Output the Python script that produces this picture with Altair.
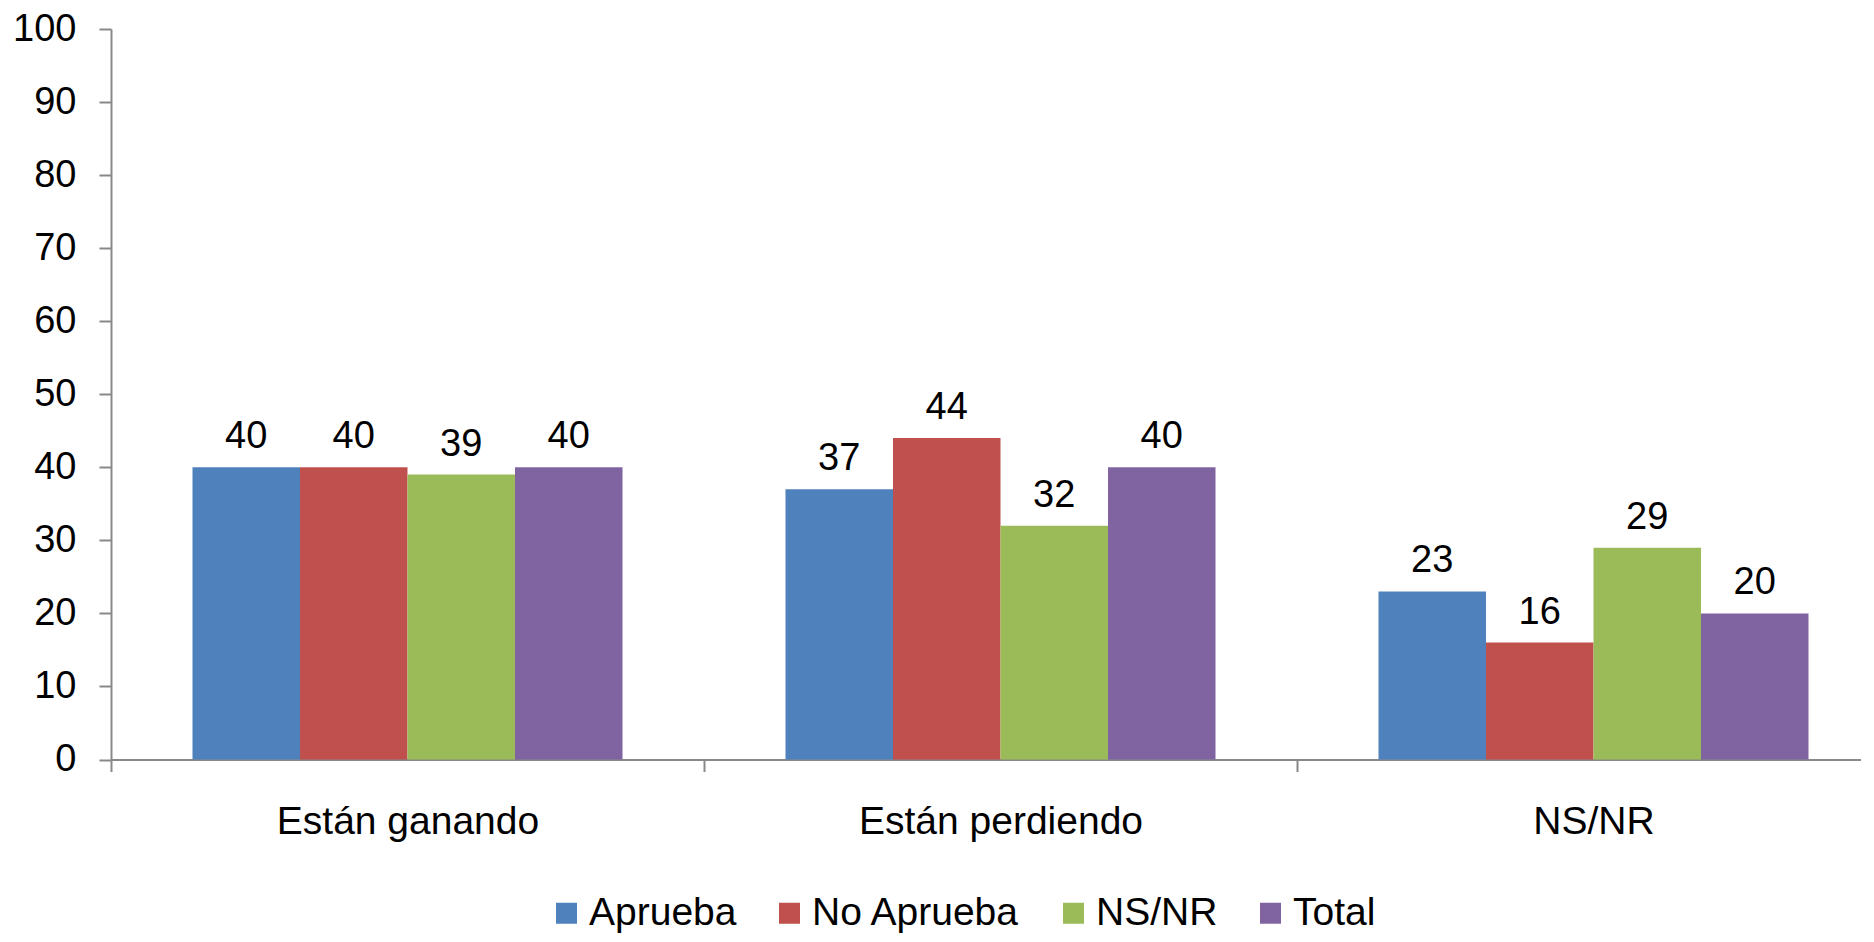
import altair as alt
import pandas as pd

categories = ["Están ganando", "Están perdiendo", "NS/NR"]
series = ["Aprueba", "No Aprueba", "NS/NR", "Total"]
aprueba = [40, 37, 23]
no_aprueba = [40, 44, 16]
ns_nr = [39, 32, 29]
total = [40, 40, 20]
colors = ["#4F81BD", "#C0504D", "#9BBB59", "#8064A2"]
y_ticks = [0, 10, 20, 30, 40, 50, 60, 70, 80, 90, 100]

rows = []
for s, vals in zip(series, [aprueba, no_aprueba, ns_nr, total]):
    for c, v in zip(categories, vals):
        rows.append({"cat": c, "serie": s, "value": v})
df = pd.DataFrame(rows)

FONT = "Liberation Sans, Arial, sans-serif"
FS = 38
GRAY = "#898989"

x_enc = alt.X(
    "cat:N",
    sort=categories,
    scale=alt.Scale(range=[0, 1779], paddingInner=0, paddingOuter=0),
    axis=alt.Axis(
        title=None, labelAngle=0, tickBand="extent", tickSize=12, tickWidth=2,
        tickColor=GRAY, domainColor=GRAY, domainWidth=2, labelPadding=31,
        labelFontSize=39, labelFont=FONT, labelColor="black", grid=False,
        labelLimit=600,
    ),
)
xoff = alt.XOffset(
    "serie:N", sort=series, scale=alt.Scale(paddingInner=0, paddingOuter=0.758)
)
y_enc = alt.Y(
    "value:Q",
    scale=alt.Scale(domain=[0, 100], nice=False),
    axis=alt.Axis(
        title=None, values=y_ticks, grid=False, tickSize=12, tickWidth=2,
        tickColor=GRAY, domainColor=GRAY, domainWidth=2, labelPadding=23,
        labelFontSize=FS, labelFont=FONT, labelColor="black",
    ),
)

bars = alt.Chart(df).mark_bar().encode(
    x=x_enc,
    xOffset=xoff,
    y=y_enc,
    color=alt.Color(
        "serie:N",
        sort=series,
        scale=alt.Scale(domain=series, range=colors),
        legend=alt.Legend(
            title=None, orient="none", legendX=436, legendY=864.5,
            direction="horizontal", symbolType="square", symbolSize=441,
            symbolStrokeWidth=0, labelFontSize=39, labelFont=FONT,
            labelColor="black", labelOffset=3, columnPadding=33,
            padding=0, labelLimit=600,
        ),
    ),
)

labels = alt.Chart(df).mark_text(
    dy=-19, baseline="alphabetic", fontSize=FS, font=FONT, color="black"
).encode(
    x=alt.X("cat:N", sort=categories),
    xOffset=alt.XOffset("serie:N", sort=series),
    y=alt.Y("value:Q"),
    text=alt.Text("value:Q"),
)

chart = (
    alt.layer(bars, labels)
    .properties(
        width=1750,
        height=730.5,
        autosize=alt.AutoSizeParams(type="none"),
        padding={"left": 103, "top": 21, "right": 0, "bottom": 174.5},
    )
    .configure_view(stroke=None)
)

chart.save("out.html", embed_options={"renderer": "svg", "actions": False})
